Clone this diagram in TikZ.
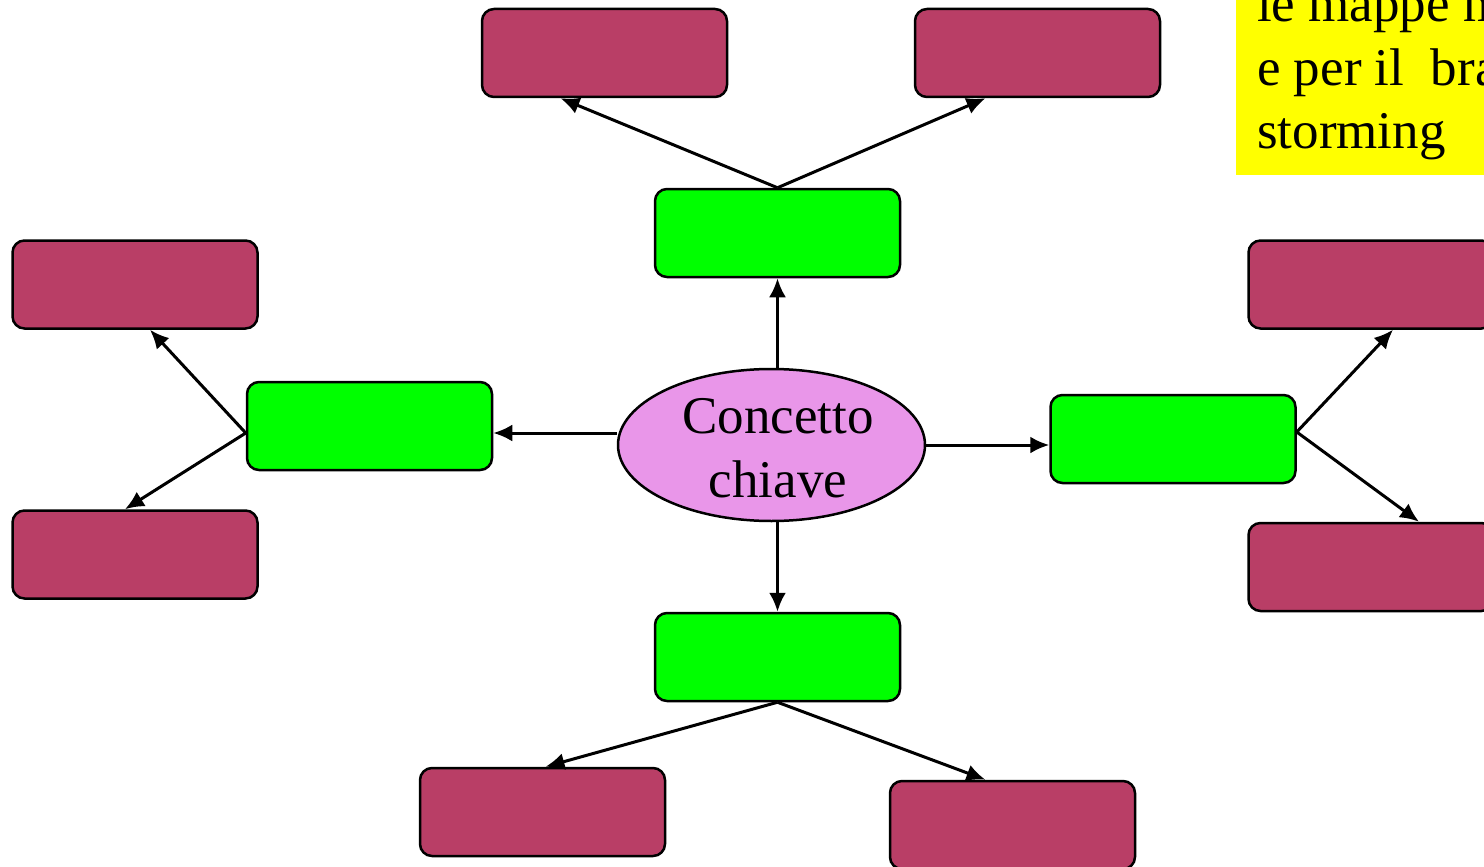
\documentclass[tikz,border=0pt]{standalone}
\usepackage{fontspec}
\setmainfont{Liberation Serif}
\usetikzlibrary{shapes.geometric,arrows.meta}
\definecolor{maroon}{RGB}{185,62,102}
\definecolor{lime}{RGB}{0,255,0}
\definecolor{pinkell}{RGB}{233,150,233}
\definecolor{yel}{RGB}{255,255,0}
\tikzset{
  box/.style={draw=black,line width=2.5pt,rounded corners=12pt,minimum width=245pt,minimum height=88pt,inner sep=0pt},
  leaf/.style={box,fill=maroon},
  mid/.style={box,fill=lime},
  conn/.style={line width=3pt,-{Latex[length=19pt,width=17pt]}},
  bigtxt/.style={font=\fontsize{53}{64}\selectfont},
}
\begin{document}
\begin{tikzpicture}[x=1pt,y=-1pt]
\useasboundingbox (0,0) rectangle (1484,867);
\clip (0,0) rectangle (1484,867);
\fill[white] (0,0) rectangle (1484,867);
% yellow note
\fill[yel] (1236,-20) rectangle (1500,175);
\node[bigtxt,anchor=base west,inner sep=0pt] (y1) at (1257,22) {le mappe m};
\node[bigtxt,anchor=base west,inner sep=0pt] (y2) at (1257,85) {e per il\ \ bra};
\node[bigtxt,anchor=base west,inner sep=0pt] (y3) at (1257,148) {storming};
% centre
\node[ellipse,draw=black,line width=2.5pt,fill=pinkell,minimum width=307pt,minimum height=152pt,inner sep=0pt] (c) at (771.5,445) {};
\node[bigtxt,align=center,inner sep=0pt] (ct) at (778,448) {Concetto\\chiave};
% green nodes
\node[mid] (gt) at (777.5,233) {};
\node[mid] (gl) at (369.5,426) {};
\node[mid] (gr) at (1173,439) {};
\node[mid] (gb) at (777.5,657) {};
% maroon nodes
\node[leaf] (tl) at (604.5,53) {};
\node[leaf] (tr) at (1037.5,53) {};
\node[leaf] (ll1) at (135,284.5) {};
\node[leaf] (ll2) at (135,554.5) {};
\node[leaf] (rr1) at (1371,284.5) {};
\node[leaf] (rr2) at (1371,567) {};
\node[leaf] (bl) at (542.5,812) {};
\node[leaf] (br) at (1012.5,825) {};
% junction points
\coordinate (gle) at ([yshift=-7pt]gl.east);
\coordinate (glw) at ([yshift=-7pt]gl.west);
\coordinate (gre) at ([yshift=7pt]gr.east);
% connectors
\draw[conn] (c.north -| gt.south) -- (gt.south);
\draw[conn] (gt.north) -- ([xshift=-44pt]tl.south);
\draw[conn] (gt.north) -- ([xshift=-52pt]tr.south);
\draw[conn] (c.west |- gle) -- (gle);
\draw[conn] (glw) -- ([xshift=15pt]ll1.south);
\draw[conn] (glw) -- ([xshift=-10pt]ll2.north);
\draw[conn] (c.east) -- (c.east -| gr.west);
\draw[conn] (gre) -- ([xshift=22pt]rr1.south);
\draw[conn] (gre) -- ([xshift=48pt]rr2.north);
\draw[conn] (c.south -| gb.north) -- (gb.north);
\draw[conn] (gb.south) -- ([xshift=3pt]bl.north);
\draw[conn] (gb.south) -- ([xshift=-27pt]br.north);
\end{tikzpicture}
\end{document}
